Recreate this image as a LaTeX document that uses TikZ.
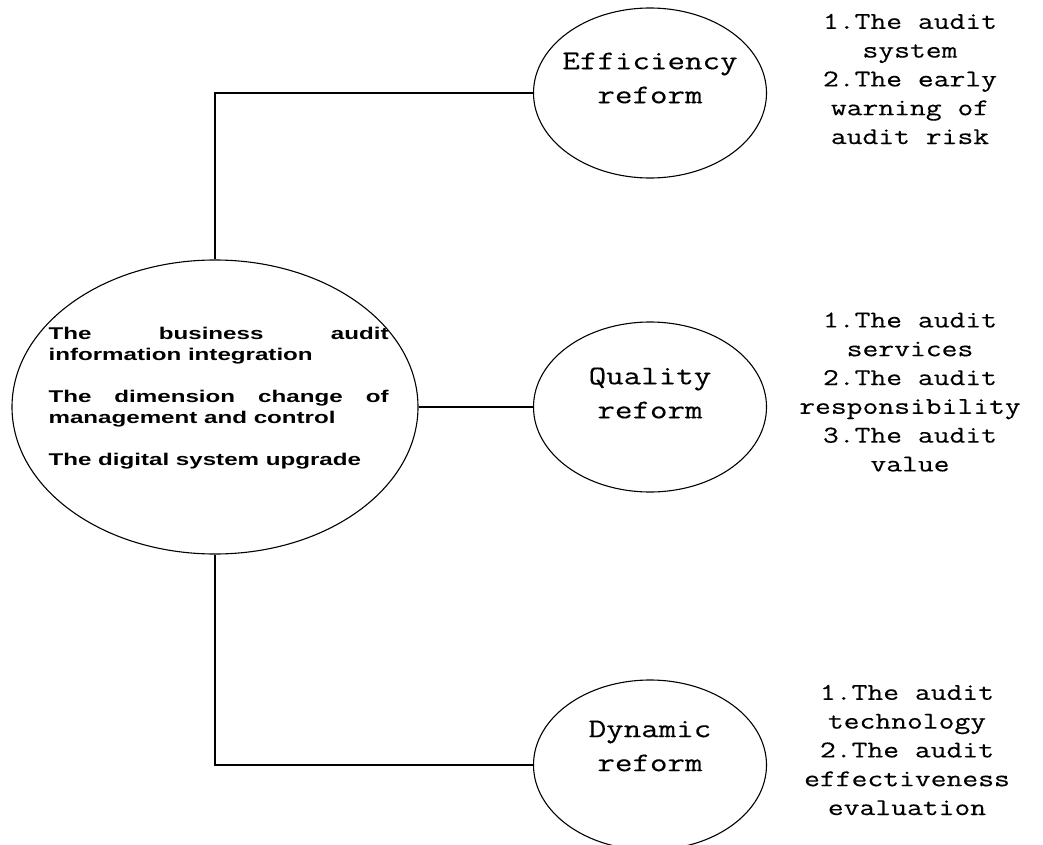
\documentclass[tikz,border=0pt]{standalone}
\usepackage{fontspec}
\usetikzlibrary{shapes.geometric}
\newfontfamily\monoin{Latin Modern Mono}[FakeStretch=1.26,FakeBold=0.3]
\newfontfamily\monolist{Latin Modern Mono}[FakeStretch=1.28,FakeBold=0.3]
\newfontfamily\sansb{Liberation Sans}[FakeStretch=1.42]
\begin{document}
\begin{tikzpicture}[x=1pt,y=-1pt,
  line width=1.1pt,
  oval/.style={draw, ellipse, inner sep=0pt, minimum width=233pt, minimum height=170pt},
  inlabel/.style={align=center, inner sep=0pt, font=\monoin\fontsize{27}{34}\selectfont},
  sidelist/.style={align=center, inner sep=0pt, font=\monolist\fontsize{24}{28.8}\selectfont},
]
\useasboundingbox (0,0) rectangle (1043,845);
\fill[white] (0,0) rectangle (1043,845);

\node[draw, ellipse, inner sep=0pt, minimum width=406pt, minimum height=294pt] (main) at (215,407) {};
\node[anchor=north west, inner sep=0pt, text width=340pt, align=justify,
      font=\sansb\bfseries\fontsize{17}{21}\selectfont] (maintext) at (48,327)
  {\hyphenpenalty=10000\tolerance=10000 The business audit information integration\par\vspace{21pt}
   The dimension change of management and control\par\vspace{21pt}
   The digital system upgrade\par};

\node[oval] (eff) at (650,93) {};
\node[oval] (qual) at (650,407) {};
\node[oval] (dyn) at (650,765) {};

\node[inlabel] (efft) at (650,78) {Efficiency\\reform};
\node[inlabel] (qualt) at (650,393) {Quality\\reform};
\node[inlabel] (dynt) at (650,746) {Dynamic\\reform};

\node[sidelist] (effl) at (910,79) {1.The audit\\system\\2.The early\\warning of\\audit risk};
\node[sidelist] (quall) at (910,392) {1.The audit\\services\\2.The audit\\responsibility\\3.The audit\\value};
\node[sidelist] (dynl) at (907,750) {1.The audit\\technology\\2.The audit\\effectiveness\\evaluation};

\draw (main.north) |- (eff.west);
\draw (main.east) -- (qual.west);
\draw (main.south) |- (dyn.west);
\end{tikzpicture}
\end{document}
